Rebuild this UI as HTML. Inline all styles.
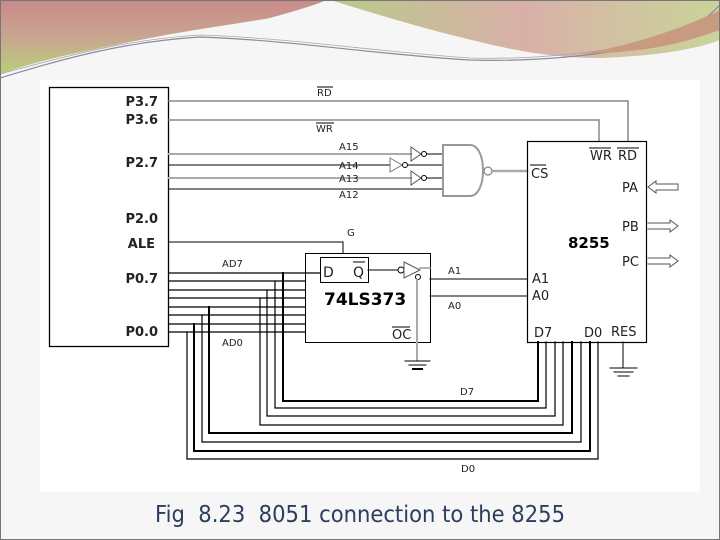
<!DOCTYPE html>
<html><head><meta charset="utf-8"><style>
html,body{margin:0;padding:0;width:720px;height:540px;overflow:hidden;background:#f6f6f6;}
svg{display:block;}
text{font-family:"DejaVu Sans","Liberation Sans",sans-serif;}
</style></head><body>
<svg width="720" height="540" viewBox="0 0 720 540" xmlns="http://www.w3.org/2000/svg">
<defs>
<linearGradient id="g1" x1="0" y1="0" x2="0" y2="1">
<stop offset="0" stop-color="#c98a8a"/><stop offset="0.5" stop-color="#c9a690"/><stop offset="1" stop-color="#b8cf7a"/></linearGradient>
<linearGradient id="g2" x1="0" y1="0" x2="1" y2="0">
<stop offset="0" stop-color="#b9c98a"/><stop offset="0.5" stop-color="#d9b0a8"/><stop offset="1" stop-color="#c9d49a"/></linearGradient>
</defs>
<rect x="0" y="0" width="720" height="540" fill="#f6f6f6"/>
<!-- header -->
<path d="M0,0 H325 C330,0 300,10 270,18 C230,25 190,30 140,40 C80,52 30,62 0,75 Z" fill="url(#g1)"/>
<path d="M330,0 H720 V40 C700,48 660,56 600,58 C560,58 520,52 480,42 C420,28 380,15 330,0 Z" fill="url(#g2)"/>
<path d="M0,78 C60,60 120,42 200,37 C290,40 380,55 470,60 C540,62 600,55 650,45 C690,35 710,15 720,5" fill="none" stroke="#8a8aa0" stroke-width="1.2"/>
<path d="M0,74 C60,58 120,40 200,35 C290,38 380,52 470,58 C540,60 600,52 650,42" fill="none" stroke="#aaa" stroke-width="0.8"/>
<path d="M580,54 C640,44 690,25 720,10 V30 C690,40 660,52 580,54Z" fill="#c89a80"/>
<rect x="40" y="80" width="660" height="412" fill="#ffffff"/>
<rect x="0.5" y="0.5" width="719" height="539" fill="none" stroke="#777"/>

<g fill="none" stroke-linecap="square">
<rect x="49.5" y="87.5" width="119" height="259" stroke="#000" stroke-width="1.3"/>
<polyline points="169,101 628,101 628,141" stroke="#888" stroke-width="1.5"/>
<polyline points="169,120 599,120 599,141" stroke="#888" stroke-width="1.5"/>
<line x1="169" y1="154" x2="411" y2="154" stroke="#aaa" stroke-width="2"/>
<line x1="169" y1="165" x2="390" y2="165" stroke="#000" stroke-width="1"/>
<line x1="169" y1="178" x2="411" y2="178" stroke="#aaa" stroke-width="2"/>
<line x1="169" y1="189" x2="443" y2="189" stroke="#000" stroke-width="1"/>
<path d="M411,147 L421,154 L411,161 Z" stroke="#555" stroke-width="1"/>
<circle cx="424" cy="154" r="2.5" stroke="#000"/>
<line x1="427" y1="154" x2="443" y2="154" stroke="#000"/>
<path d="M390,158 L402,165 L390,172 Z" stroke="#777" stroke-width="1"/>
<circle cx="405" cy="165" r="2.5" stroke="#000"/>
<line x1="408" y1="165" x2="443" y2="165" stroke="#000"/>
<path d="M411,171 L421,178 L411,185 Z" stroke="#555" stroke-width="1"/>
<circle cx="424" cy="178" r="2.5" stroke="#000"/>
<line x1="427" y1="178" x2="443" y2="178" stroke="#000"/>
<path d="M470,145 H443 V196 H470 C478,196 483,185 483,170.5 C483,156 478,145 470,145" stroke="#999" stroke-width="2"/>
<circle cx="488" cy="171" r="4" stroke="#888" stroke-width="1.3"/>
<line x1="492" y1="171" x2="527" y2="171" stroke="#aaa" stroke-width="2.5"/>
<rect x="527.5" y="141.5" width="119" height="201" stroke="#000" stroke-width="1.2"/>
<path d="M648,187 L656,181 V184 H678 V190 H656 V193 Z" stroke="#555" stroke-width="1"/>
<path d="M648,223 H670 V220 L678,226 L670,232 V229 H648" stroke="#555" stroke-width="1"/>
<path d="M648,258 H670 V255 L678,261 L670,267 V264 H648" stroke="#555" stroke-width="1"/>
<polyline points="169,242 343,242 343,253" stroke="#000"/>
<rect x="305.5" y="253.5" width="125" height="89" stroke="#000"/>
<rect x="320.5" y="257.5" width="48" height="25" stroke="#000"/>
<line x1="368" y1="270" x2="398" y2="270" stroke="#000"/>
<circle cx="401" cy="270" r="3" stroke="#000"/>
<path d="M404,262 L420,270 L404,278 Z" stroke="#555"/>
<circle cx="418" cy="277" r="2.5" stroke="#000"/>
<line x1="420" y1="268" x2="430" y2="268" stroke="#999" stroke-width="1.5"/>
<line x1="417" y1="280" x2="417" y2="360" stroke="#aaa" stroke-width="2"/>
<line x1="430" y1="279" x2="527" y2="279" stroke="#000"/>
<line x1="430" y1="296" x2="527" y2="296" stroke="#000"/>
<line x1="405" y1="361" x2="430" y2="361" stroke="#000"/>
<line x1="409" y1="365" x2="426" y2="365" stroke="#000"/>
<line x1="413" y1="369" x2="422" y2="369" stroke="#000" stroke-width="2"/>
<line x1="623" y1="342" x2="623" y2="368" stroke="#000"/>
<line x1="610" y1="368" x2="637" y2="368" stroke="#000"/>
<line x1="614" y1="372" x2="633" y2="372" stroke="#000"/>
<line x1="618" y1="376" x2="629" y2="376" stroke="#000"/>
<g stroke="#000" stroke-width="1.2">
<polyline points="169,273 320,273"/>
<polyline points="169,281 305,281"/>
<polyline points="169,290 305,290"/>
<polyline points="169,298 305,298"/>
<polyline points="169,307 305,307"/>
<polyline points="169,315 305,315"/>
<polyline points="169,324 305,324"/>
<polyline points="169,332 305,332"/>
<polyline points="283,273 283,401 538,401 538,342" stroke-width="2"/>
<polyline points="275,281 275,408 546,408 546,342"/>
<polyline points="267,290 267,416 555,416 555,342"/>
<polyline points="260,298 260,425 563,425 563,342"/>
<polyline points="209,307 209,433 572,433 572,342" stroke-width="2"/>
<polyline points="202,315 202,442 581,442 581,342"/>
<polyline points="194,324 194,451 590,451 590,342" stroke-width="2"/>
<polyline points="187,332 187,459 598,459 598,342"/>
</g>
</g>

<g fill="#000">
<g font-weight="bold" font-size="13" text-anchor="end" fill="#222">
<text x="158" y="106">P3.7</text>
<text x="158" y="124">P3.6</text>
<text x="158" y="167">P2.7</text>
<text x="158" y="223">P2.0</text>
<text x="155" y="248">ALE</text>
<text x="158" y="283">P0.7</text>
<text x="158" y="336">P0.0</text>
</g>
<g font-size="10" fill="#222">
<text x="317" y="96">RD</text><line x1="317" y1="87" x2="333" y2="87" stroke="#000"/>
<text x="316" y="132">WR</text><line x1="316" y1="123" x2="334" y2="123" stroke="#000"/>
<text x="339" y="150">A15</text>
<text x="339" y="169">A14</text>
<text x="339" y="182">A13</text>
<text x="339" y="198">A12</text>
<text x="347" y="236">G</text>
<text x="222" y="267">AD7</text>
<text x="222" y="346">AD0</text>
<text x="448" y="274">A1</text>
<text x="448" y="309">A0</text>
<text x="460" y="395">D7</text>
<text x="461" y="472">D0</text>
</g>
<g font-size="14" fill="#222">
<text x="323" y="277">D</text>
<text x="353" y="277">Q</text><line x1="353" y1="262" x2="365" y2="262" stroke="#000"/>
<text x="392" y="339" font-size="13">OC</text><line x1="392" y1="327" x2="410" y2="327" stroke="#000"/>
<text x="590" y="160" font-size="13">WR</text><line x1="589" y1="148" x2="611" y2="148" stroke="#000"/>
<text x="618" y="160" font-size="13">RD</text><line x1="617" y1="148" x2="639" y2="148" stroke="#000"/>
<text x="531" y="178" font-size="13">CS</text><line x1="530" y1="165" x2="546" y2="165" stroke="#000"/>
<text x="622" y="192" font-size="13">PA</text>
<text x="622" y="231" font-size="13">PB</text>
<text x="622" y="266" font-size="13">PC</text>
<text x="532" y="283" font-size="13">A1</text>
<text x="532" y="300" font-size="13">A0</text>
<text x="534" y="337" font-size="13">D7</text>
<text x="584" y="337" font-size="13">D0</text>
<text x="611" y="336" font-size="13">RES</text>
</g>
<text x="324" y="305" font-size="17" font-weight="bold">74LS373</text>
<text x="568" y="248" font-size="15" font-weight="bold" font-family="Liberation Serif,serif">8255</text>
<text x="360" y="522" font-size="23" text-anchor="middle" fill="#2c3e5c" font-family="Liberation Sans,sans-serif" textLength="410" lengthAdjust="spacingAndGlyphs">Fig&#160; 8.23&#160; 8051 connection to the 8255</text>
</g>
</svg>
</body></html>
